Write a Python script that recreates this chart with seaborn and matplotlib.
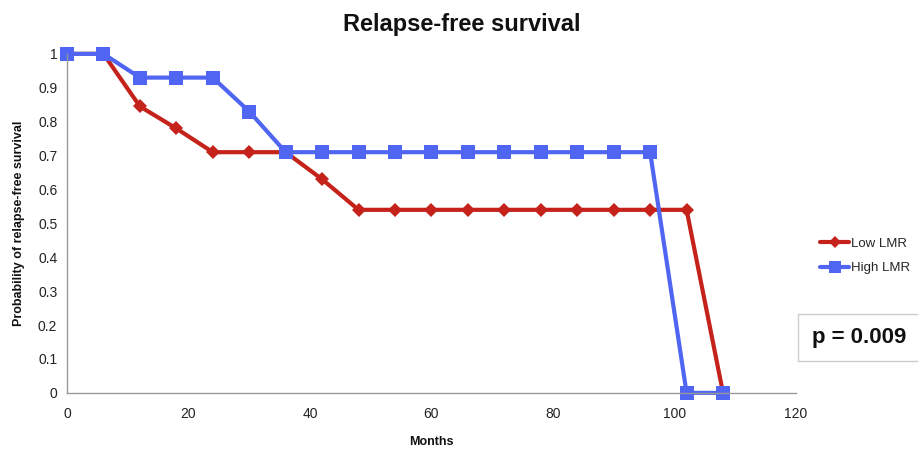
import matplotlib
matplotlib.use("Agg")
import matplotlib.pyplot as plt
import seaborn as sns
import pandas as pd
from matplotlib.lines import Line2D

months = [0, 6, 12, 18, 24, 30, 36, 42, 48, 54, 60, 66, 72, 78, 84, 90, 96, 102, 108]
low_lmr = [1, 1, 0.845, 0.78, 0.71, 0.71, 0.71, 0.63, 0.54, 0.54, 0.54, 0.54, 0.54, 0.54, 0.54, 0.54, 0.54, 0.54, 0]
high_lmr = [1, 1, 0.93, 0.93, 0.93, 0.83, 0.71, 0.71, 0.71, 0.71, 0.71, 0.71, 0.71, 0.71, 0.71, 0.71, 0.71, 0, 0]
series_names = ["Low LMR", "High LMR"]
x_ticks = [0, 20, 40, 60, 80, 100, 120]
y_ticks = [0, 0.1, 0.2, 0.3, 0.4, 0.5, 0.6, 0.7, 0.8, 0.9, 1]

df = pd.DataFrame({
    "Months": months * 2,
    "Probability": low_lmr + high_lmr,
    "Group": [series_names[0]] * len(months) + [series_names[1]] * len(months),
})

sns.set_style("white")
plt.rcParams['font.family'] = ['Liberation Sans', 'DejaVu Sans']

fig = plt.figure(figsize=(9.18, 4.49), dpi=100)
ax = fig.add_axes([0.073, 0.125, 0.794, 0.755])

palette = {"Low LMR": "#C4221A", "High LMR": "#5066F2"}
markers = {"Low LMR": "D", "High LMR": "s"}
sns.lineplot(data=df, x="Months", y="Probability", hue="Group", style="Group",
             palette=palette, markers=markers, dashes=False, linewidth=3,
             markersize=9, markeredgewidth=0, ax=ax, legend=False)
for line, ms in zip(ax.get_lines(), [7, 10]):
    line.set_markersize(ms)
    line.set_clip_on(False)

ax.set_xlim(0, 120)
ax.set_ylim(0, 1)
ax.set_xticks(x_ticks)
ax.set_yticks(y_ticks)
ax.set_yticklabels([f"{v:g}" for v in y_ticks])
ax.tick_params(axis="both", labelsize=10, colors="#222222", length=3, direction="out", width=0.8)
ax.tick_params(axis="x", pad=7)
ax.tick_params(axis="y", pad=4)
for t in ax.get_xticklines() + ax.get_yticklines():
    t.set_color("#999999")
for s in ["top", "right"]:
    ax.spines[s].set_visible(False)
for s in ["left", "bottom"]:
    ax.spines[s].set_color("#999999")
    ax.spines[s].set_linewidth(1)

ax.set_xlabel("Months", fontsize=9, fontweight="bold", labelpad=11, color="#111111")
ax.set_ylabel("Probability of relapse-free survival", fontsize=9, fontweight="bold", labelpad=9, color="#111111")
fig.suptitle("Relapse-free survival", fontsize=17, fontweight="bold", x=0.503, y=0.97, color="#111111")

handles = [Line2D([0], [0], color=palette[n], marker=markers[n], lw=3,
                  markersize=(6 if n == "Low LMR" else 8), markeredgewidth=0) for n in series_names]
fig.legend(handles, series_names, loc="upper left", bbox_to_anchor=(0.888, 0.483),
           frameon=False, fontsize=9.5, handlelength=2.2, handletextpad=0.15, labelspacing=0.95,
           borderaxespad=0)

fig.text(0.884, 0.2485, "p = 0.009", fontsize=16, fontweight="bold", va="center", ha="left",
         color="#111111",
         bbox=dict(boxstyle="square,pad=0.6", facecolor="white", edgecolor="#cccccc", linewidth=1))

fig.savefig("out.png", dpi=100)
